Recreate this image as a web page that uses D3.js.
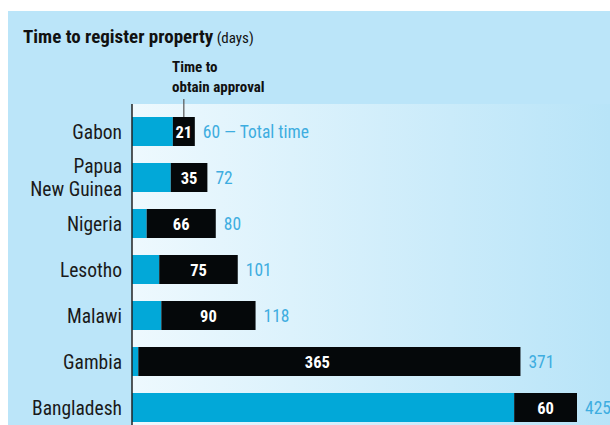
<!DOCTYPE html>
<html><head><meta charset="utf-8">
<script src="https://cdn.jsdelivr.net/npm/d3@7"></script>
<style>
html,body{margin:0;padding:0;background:#fff;}
svg{display:block;}
text{font-family:"Liberation Sans Narrow","Roboto Condensed","Open Sans",sans-serif;}
</style></head>
<body><svg id="c" width="610" height="425"></svg>
<script>
const categories = ["Gabon","Papua New Guinea","Nigeria","Lesotho","Malawi","Gambia","Bangladesh"];
const categoryLines = [["Gabon"],["Papua","New Guinea"],["Nigeria"],["Lesotho"],["Malawi"],["Gambia"],["Bangladesh"]];
const approvalDays = [21,35,66,75,90,365,60];
const totalDays = [60,72,80,101,118,371,425];

const svg = d3.select("#c");
const W = 610, H = 425;

// panel
svg.append("rect").attr("x", 8).attr("y", 11).attr("width", W - 8).attr("height", H - 11).attr("fill", "#bbe5f9");

const defs = svg.append("defs");
const grad = defs.append("linearGradient").attr("id", "g1").attr("x1", "0").attr("x2", "1").attr("y1", "0").attr("y2", "0");
grad.append("stop").attr("offset", "0").attr("stop-color", "#eef9fe");
grad.append("stop").attr("offset", "1").attr("stop-color", "#b8e4f8");

const x = d3.scaleLinear().domain([0, 425]).range([132, 577]);
const pad = 17 / 46;
const y = d3.scaleBand().domain(categories).range([108.5, 430.5]).paddingInner(pad).paddingOuter(pad / 2);

svg.append("rect").attr("x", x(0)).attr("y", 104).attr("width", W - x(0)).attr("height", H - 104).attr("fill", "url(#g1)");

// title
const t = svg.append("text").attr("x", 23).attr("y", 43).attr("fill", "#111");
t.append("tspan").attr("font-size", 19).attr("font-weight", "bold").text("Time to register property");
t.append("tspan").attr("font-size", 15).text(" (days)");

// annotation
svg.append("text").attr("x", 172).attr("y", 72).attr("fill", "#111").attr("font-size", 15).attr("font-weight", "bold").text("Time to");
svg.append("text").attr("x", 172).attr("y", 92).attr("fill", "#111").attr("font-size", 15).attr("font-weight", "bold").text("obtain approval");
const g0 = categories[0];
svg.append("line").attr("x1", x(totalDays[0] - approvalDays[0] / 2)).attr("x2", x(totalDays[0] - approvalDays[0] / 2))
  .attr("y1", 99).attr("y2", y(g0)).attr("stroke", "#555").attr("stroke-width", 1.2);

const data = categories.map((c, i) => ({c, lines: categoryLines[i], a: approvalDays[i], t: totalDays[i]}));

// blue (other time)
svg.selectAll(".blue").data(data).join("rect").attr("class", "blue")
  .attr("x", x(0)).attr("y", d => y(d.c)).attr("width", d => x(d.t - d.a) - x(0)).attr("height", y.bandwidth())
  .attr("fill", "#02a8d8");
// black (approval)
svg.selectAll(".black").data(data).join("rect").attr("class", "black")
  .attr("x", d => x(d.t - d.a)).attr("y", d => y(d.c)).attr("width", d => x(d.t) - x(d.t - d.a)).attr("height", y.bandwidth())
  .attr("fill", "#05080a");

// approval labels
svg.selectAll(".al").data(data).join("text").attr("class", "al")
  .attr("x", d => d.a > 300 ? (x(d.t - d.a) + x(d.t)) / 2 - 12 : (x(d.t - d.a) + x(d.t)) / 2)
  .attr("y", d => y(d.c) + y.bandwidth() / 2 + 6)
  .attr("text-anchor", "middle").attr("fill", "#fff").attr("font-size", 16.5).attr("font-weight", "bold")
  .text(d => d.a);

// total labels
svg.selectAll(".tl").data(data).join("text").attr("class", "tl")
  .attr("x", d => x(d.t) + 8).attr("y", d => y(d.c) + y.bandwidth() / 2 + 6.5)
  .attr("fill", "#3eade0").attr("font-size", 17.5)
  .text((d, i) => i === 0 ? d.t + " \u2014 Total time" : d.t);

// category labels (one text per line)
const lineData = [];
data.forEach(d => {
  const n = d.lines.length;
  d.lines.forEach((s, k) => lineData.push({c: d.c, s, off: (k - (n - 1) / 2) * 23.2}));
});
svg.selectAll(".cl").data(lineData).join("text").attr("class", "cl")
  .attr("x", 122).attr("y", d => y(d.c) + y.bandwidth() / 2 + 7 + d.off)
  .attr("text-anchor", "end").attr("fill", "#1a1a1a").attr("font-size", 19.5)
  .text(d => d.s);

// axis line
svg.append("line").attr("x1", x(0)).attr("x2", x(0)).attr("y1", 104).attr("y2", H).attr("stroke", "#222").attr("stroke-width", 1.5);
</script></body></html>
